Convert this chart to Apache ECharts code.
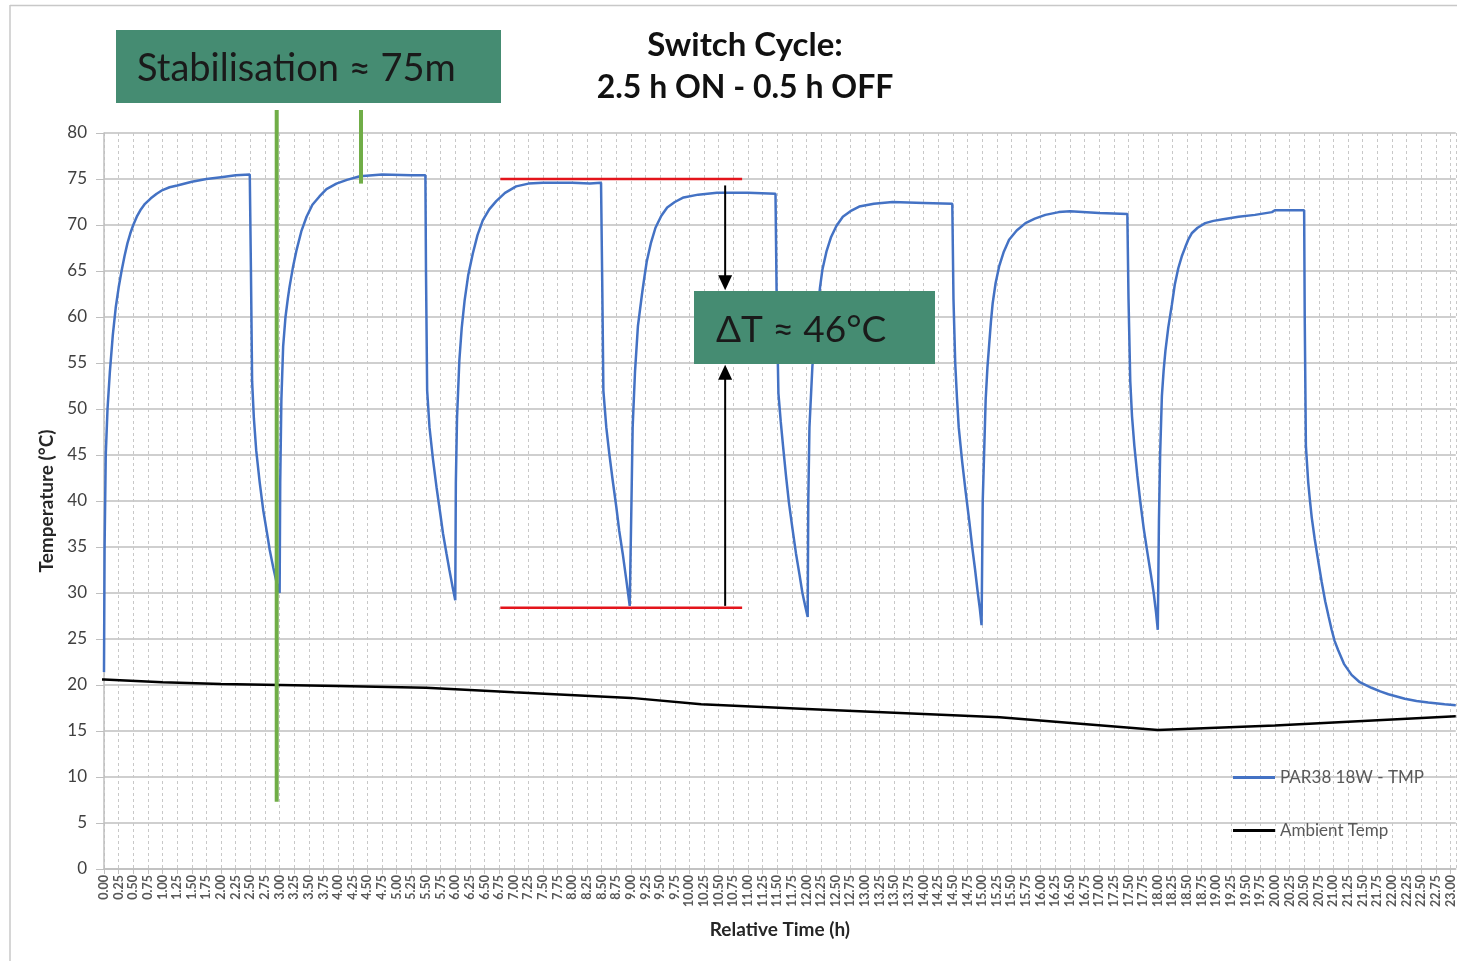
<!DOCTYPE html>
<html>
<head>
<meta charset="utf-8">
<script src="https://cdn.jsdelivr.net/npm/echarts@6/dist/echarts.min.js"></script>
<style>
  html, body { margin: 0; padding: 0; background: #fff; }
  #chart { width: 1457px; height: 961px; }
</style>
</head>
<body>
<div id="chart"></div>
<script>
// PAR38 lamp temperature (hours, °C)
const parHours = [
  0.00, 0.01, 0.03, 0.06, 0.10, 0.15, 0.20, 0.25, 0.30, 0.35, 0.40, 0.45, 0.50, 0.56, 0.62, 0.70, 0.80, 0.90, 1.00, 1.12, 1.25, 1.50, 1.75, 2.00, 2.25, 2.49,
  2.51, 2.53, 2.56, 2.60, 2.66, 2.72, 2.78, 2.83, 2.89, 2.95, 3.00,
  3.01, 3.03, 3.06, 3.10, 3.14, 3.17, 3.23, 3.29, 3.37, 3.46, 3.56, 3.68, 3.80, 3.97, 4.15, 4.37, 4.75, 5.25, 5.49,
  5.50, 5.52, 5.56, 5.62, 5.68, 5.74, 5.79, 5.85, 5.90, 5.95, 6.00,
  6.01, 6.03, 6.07, 6.11, 6.16, 6.22, 6.30, 6.38, 6.47, 6.58, 6.70, 6.85, 7.04, 7.25, 7.50, 8.00, 8.30, 8.49,
  8.51, 8.53, 8.58, 8.63, 8.69, 8.75, 8.80, 8.86, 8.92, 8.98,
  9.00, 9.01, 9.03, 9.07, 9.12, 9.19, 9.23, 9.27, 9.34, 9.42, 9.52, 9.62, 9.75, 9.90, 10.15, 10.47, 11.00, 11.47,
  11.49, 11.52, 11.56, 11.60, 11.65, 11.70, 11.76, 11.82, 11.88, 11.93, 11.98, 12.02,
  12.03, 12.05, 12.10, 12.15, 12.19, 12.23, 12.27, 12.34, 12.42, 12.51, 12.62, 12.75, 12.90, 13.15, 13.47, 14.00, 14.49,
  14.51, 14.54, 14.57, 14.60, 14.66, 14.72, 14.78, 14.83, 14.88, 14.92, 14.96, 14.99,
  15.01, 15.06, 15.09, 15.12, 15.15, 15.18, 15.23, 15.29, 15.37, 15.46, 15.59, 15.74, 15.90, 16.08, 16.31, 16.50, 17.00, 17.48,
  17.50, 17.53, 17.56, 17.60, 17.65, 17.70, 17.76, 17.82, 17.88, 17.93, 17.97, 18.00,
  18.02, 18.04, 18.07, 18.10, 18.13, 18.18, 18.24, 18.29, 18.35, 18.41, 18.47, 18.52, 18.58, 18.68, 18.81, 18.95, 19.09, 19.38, 19.66, 19.95, 20.00, 20.50,
  20.51, 20.53, 20.57, 20.60, 20.63, 20.68, 20.74, 20.80, 20.86, 20.92, 20.97, 21.02, 21.08, 21.18, 21.31, 21.45, 21.65, 21.80, 21.94, 22.22, 22.42, 22.62, 22.90, 23.09
];
const parTemps = [
  21.4, 35.0, 45.0, 50.0, 54.0, 58.0, 61.0, 63.2, 65.0, 66.6, 68.0, 69.1, 70.0, 70.9, 71.6, 72.3, 72.9, 73.4, 73.8, 74.1, 74.3, 74.7, 75.0, 75.2, 75.4, 75.5,
  65.0, 53.0, 49.0, 45.5, 42.0, 39.0, 36.7, 34.7, 32.8, 31.1, 30.0,
  42.0, 51.0, 56.8, 60.0, 62.0, 63.3, 65.5, 67.3, 69.3, 70.9, 72.2, 73.1, 73.9, 74.5, 74.9, 75.3, 75.5, 75.4, 75.4,
  65.0, 52.0, 48.0, 44.5, 41.5, 38.8, 36.5, 34.3, 32.5, 30.8, 29.2,
  42.0, 49.0, 55.3, 58.8, 61.8, 64.5, 66.9, 68.9, 70.5, 71.7, 72.6, 73.5, 74.2, 74.5, 74.6, 74.6, 74.5, 74.6,
  64.0, 52.0, 48.0, 45.2, 42.2, 39.4, 36.8, 34.3, 31.5, 28.6,
  28.5, 40.0, 48.0, 54.0, 59.0, 62.5, 64.3, 66.0, 68.0, 69.7, 71.0, 71.9, 72.5, 73.0, 73.3, 73.5, 73.5, 73.4,
  62.0, 51.7, 48.6, 45.9, 42.7, 39.8, 37.0, 34.3, 32.0, 30.0, 28.5, 27.4,
  40.0, 48.0, 54.6, 58.3, 60.8, 63.2, 65.1, 67.1, 68.7, 69.9, 70.9, 71.5, 72.0, 72.3, 72.5, 72.4, 72.3,
  62.0, 55.0, 51.2, 48.0, 44.2, 40.9, 37.8, 35.0, 32.5, 30.3, 28.3, 26.5,
  40.0, 51.0, 54.5, 57.0, 59.5, 61.5, 63.7, 65.5, 67.1, 68.4, 69.4, 70.2, 70.7, 71.1, 71.4, 71.5, 71.3, 71.2,
  62.0, 53.0, 49.2, 46.0, 42.8, 40.0, 37.0, 34.5, 32.1, 30.0, 27.9, 26.0,
  38.0, 45.0, 51.4, 54.2, 56.3, 58.9, 61.3, 63.5, 65.3, 66.6, 67.6, 68.4, 69.1, 69.7, 70.2, 70.45, 70.6, 70.9, 71.1, 71.4, 71.6, 71.6,
  60.0, 46.0, 42.0, 40.0, 38.2, 35.9, 33.5, 31.2, 29.1, 27.4, 26.0, 24.8, 23.8, 22.3, 21.1, 20.3, 19.7, 19.3, 19.0, 18.5, 18.25, 18.1, 17.9, 17.8
];

// ambient temperature
const ambHours = [-0.28, 0, 1, 2, 3, 4, 5.5, 7, 9, 10.2, 12, 15.3, 18, 20, 23.09];
const ambTemps = [20.65, 20.6, 20.3, 20.1, 20.0, 19.9, 19.7, 19.2, 18.6, 17.9, 17.4, 16.5, 15.1, 15.6, 16.6];

const seriesNames = ['PAR38 18W - TMP', 'Ambient Temp'];

const FONT = 'Lato, "Open Sans", sans-serif';

let chart = echarts.init(document.getElementById('chart'));

chart.setOption({
  backgroundColor: '#fff',
  animation: false,
  grid: { left: 104, right: 0, top: 133, bottom: 92 },
  legend: {
    orient: 'vertical',
    left: 1233,
    top: 769,
    padding: 0,
    itemWidth: 42,
    itemHeight: 14,
    itemGap: 36,
    icon: 'path://M0,0 L42,0 L42,3 L0,3 Z',
    textStyle: { color: '#595959', fontSize: 17, fontFamily: FONT },
    data: seriesNames
  },
  xAxis: {
    type: 'value',
    min: 0,
    max: 23.09,
    interval: 0.25,
    name: 'Relative Time (h)',
    nameLocation: 'middle',
    nameGap: 51,
    nameTextStyle: { fontSize: 19, fontWeight: 'bold', color: '#262626', fontFamily: FONT },
    axisLine: { lineStyle: { color: '#bfbfbf', width: 1.5 } },
    axisTick: { show: true, length: 5, lineStyle: { color: '#bfbfbf' } },
    axisLabel: {
      rotate: 90,
      margin: 6,
      fontSize: 12.5,
      fontWeight: 'bold',
      color: '#595959',
      fontFamily: FONT,
      showMaxLabel: false,
      formatter: v => v.toFixed(2)
    },
    splitLine: { show: true, lineStyle: { color: '#c8c8c8', type: [3, 3], width: 1 } }
  },
  yAxis: {
    type: 'value',
    min: 0,
    max: 80,
    interval: 5,
    name: 'Temperature (°C)',
    nameLocation: 'middle',
    nameGap: 48,
    nameTextStyle: { fontSize: 19, fontWeight: 'bold', color: '#262626', fontFamily: FONT },
    axisLine: { show: true, lineStyle: { color: '#bfbfbf', width: 1.5 } },
    axisTick: { show: true, length: 8, lineStyle: { color: '#bfbfbf' } },
    axisLabel: { fontSize: 17, color: '#404040', margin: 17, fontFamily: FONT },
    splitLine: { show: true, lineStyle: { color: '#bfbfbf', width: 1.5 } }
  },
  series: [
    {
      name: seriesNames[0],
      type: 'line',
      symbol: 'none',
      data: parHours.map((h, i) => [h, parTemps[i]]),
      lineStyle: { color: '#4472C4', width: 2.5 },
      itemStyle: { color: '#4472C4' },
      z: 3
    },
    {
      name: seriesNames[1],
      type: 'line',
      symbol: 'none',
      clip: false,
      data: ambHours.map((h, i) => [h, ambTemps[i]]),
      lineStyle: { color: '#000', width: 2.5 },
      itemStyle: { color: '#000' },
      z: 2
    }
  ]
});

// annotations placed in data space
function px(x, y) { return chart.convertToPixel({ gridIndex: 0 }, [x, y]); }

const gA1 = px(2.95, 82.5), gA2 = px(2.95, 7.3);
const gB1 = px(4.39, 82.5), gB2 = px(4.39, 74.5);
const rTop1 = px(6.77, 75), rTop2 = px(10.9, 75);
const rBot1 = px(6.77, 28.4), rBot2 = px(10.9, 28.4);
const arUp = px(10.61, 74.3), arUpTip = px(10.61, 62.9);
const arLo = px(10.61, 28.6), arLoTip = px(10.61, 54.8);

function head(tip, dir) {
  // dir = 1 points down, -1 points up
  return {
    type: 'polygon',
    shape: { points: [[tip[0], tip[1]], [tip[0] - 7, tip[1] - dir * 15], [tip[0] + 7, tip[1] - dir * 15]] },
    style: { fill: '#000' },
    z: 20
  };
}

chart.setOption({
  graphic: [
    // frame
    { type: 'line', shape: { x1: 10, y1: 5.5, x2: 1457, y2: 5.5 }, style: { stroke: '#c8c8c8', lineWidth: 1.5 } },
    { type: 'line', shape: { x1: 10, y1: 5, x2: 10, y2: 961 }, style: { stroke: '#c8c8c8', lineWidth: 1.5 } },
    // title
    { type: 'text', x: 745, y: 45, style: { text: 'Switch Cycle:', font: 'bold 33px ' + FONT, fill: '#111', align: 'center', verticalAlign: 'middle' } },
    { type: 'text', x: 745, y: 88, style: { text: '2.5 h ON - 0.5 h OFF', font: 'bold 32px ' + FONT, fill: '#111', align: 'center', verticalAlign: 'middle' } },
    // stabilisation box
    { type: 'rect', shape: { x: 116, y: 30, width: 385, height: 73 }, style: { fill: '#458C72' }, z: 10 },
    { type: 'text', x: 137, y: 69, style: { text: 'Stabilisation ≈ 75m', font: '38px ' + FONT, fill: '#1a1a1a', align: 'left', verticalAlign: 'middle' }, z: 11 },
    // green markers
    { type: 'line', shape: { x1: gA1[0], y1: gA1[1], x2: gA2[0], y2: gA2[1] }, style: { stroke: '#70AD47', lineWidth: 4 }, z: 15 },
    { type: 'line', shape: { x1: gB1[0], y1: gB1[1], x2: gB2[0], y2: gB2[1] }, style: { stroke: '#70AD47', lineWidth: 4 }, z: 15 },
    // red level lines
    { type: 'line', shape: { x1: rTop1[0], y1: rTop1[1], x2: rTop2[0], y2: rTop2[1] }, style: { stroke: '#E3141B', lineWidth: 2.5 }, z: 15 },
    { type: 'line', shape: { x1: rBot1[0], y1: rBot1[1], x2: rBot2[0], y2: rBot2[1] }, style: { stroke: '#E3141B', lineWidth: 2.5 }, z: 15 },
    // arrows
    { type: 'line', shape: { x1: arUp[0], y1: arUp[1], x2: arUpTip[0], y2: arUpTip[1] - 10 }, style: { stroke: '#000', lineWidth: 2 }, z: 20 },
    head(arUpTip, 1),
    { type: 'line', shape: { x1: arLo[0], y1: arLo[1], x2: arLoTip[0], y2: arLoTip[1] + 10 }, style: { stroke: '#000', lineWidth: 2 }, z: 20 },
    head(arLoTip, -1),
    // delta box
    { type: 'rect', shape: { x: 694, y: 291, width: 241, height: 73 }, style: { fill: '#458C72' }, z: 10 },
    { type: 'text', x: 716, y: 330, style: { text: 'ΔT ≈ 46°C', font: '37px ' + FONT, fill: '#1a1a1a', align: 'left', verticalAlign: 'middle' }, z: 11 }
  ]
});
</script>
</body>
</html>
